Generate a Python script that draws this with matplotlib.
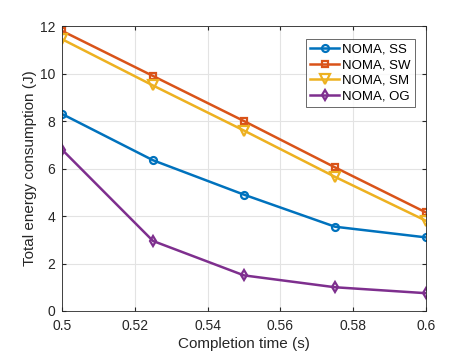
import matplotlib
matplotlib.use("Agg")
import matplotlib.pyplot as plt

t = [0.5, 0.525, 0.55, 0.575, 0.6]
ss = [8.3, 6.35, 4.9, 3.55, 3.1]
sw = [11.8, 9.9, 8.0, 6.05, 4.15]
sm = [11.45, 9.5, 7.6, 5.65, 3.8]
og = [6.8, 2.95, 1.5, 1.0, 0.75]

labels = ["NOMA, SS", "NOMA, SW", "NOMA, SM", "NOMA, OG"]
colors = ["#0072BD", "#D95319", "#EDB120", "#7E2F8E"]
markers = ["o", "s", "v", "d"]
msizes = [5, 4.5, 7, 5.5]

plt.rcParams["font.family"] = ["Liberation Sans", "DejaVu Sans"]

fig = plt.figure(figsize=(4.71, 3.53), dpi=100)
ax = fig.add_axes([0.1316, 0.119, 0.7729, 0.807])

for y, lab, c, m, s in zip([ss, sw, sm, og], labels, colors, markers, msizes):
    ax.plot(t, y, color=c, lw=1.8, marker=m, ms=s, mfc="none", mew=1.6, label=lab)

ax.set_xlim(0.5, 0.6)
ax.set_ylim(0, 12)
ax.set_xticks([0.5, 0.52, 0.54, 0.56, 0.58, 0.6])
ax.set_xticklabels(["0.5", "0.52", "0.54", "0.56", "0.58", "0.6"])
ax.set_yticks(range(0, 13, 2))
ax.grid(True, color="#e3e3e3", lw=0.8)
ax.tick_params(direction="in", labelsize=10, colors="#262626", length=3, top=True, right=True,
               labeltop=False, labelright=False)
ax.tick_params(axis="x", pad=6)
ax.tick_params(axis="y", pad=5)
for sp in ax.spines.values():
    sp.set_color("#262626")
    sp.set_linewidth(0.6)
ax.set_xlabel("Completion time (s)", fontsize=11, color="#262626", labelpad=3)
ax.set_ylabel("Total energy consumption (J)", fontsize=11, color="#262626", labelpad=2)
leg = ax.legend(loc="upper right", bbox_to_anchor=(0.97, 0.955), fontsize=9.5, fancybox=False,
                edgecolor="#262626", handlelength=2.2, borderpad=0.35, labelspacing=0.25,
                handletextpad=0.2, borderaxespad=0)
leg.get_frame().set_linewidth(0.6)

fig.savefig("out.png", dpi=100)
